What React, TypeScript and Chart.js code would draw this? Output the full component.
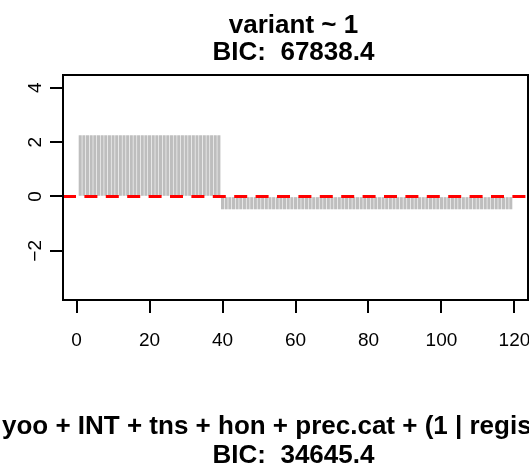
import React, { useEffect, useRef } from "react";
import { Chart, registerables } from "chart.js";

Chart.register(...registerables);

// ---- data ----
const positiveCount = 39; // x = 1..39
const negativeCount = 80; // x = 40..119
const positiveValue = 2.24;
const negativeValue = -0.46;
const xValues: number[] = Array.from({ length: positiveCount + negativeCount }, (_, i) => i + 1);
const yValues: number[] = xValues.map((x) => (x <= positiveCount ? positiveValue : negativeValue));
const xTicks = [0, 20, 40, 60, 80, 100, 120];
const yTicks = [-2, 0, 2, 4];
const xRange = [-3.72, 123.72];
const yRange = [-3.81, 4.47];
const refLineY = 0;
const titleLines = ["variant ~ 1", "BIC:  67838.4"];
const nextTitleLines = ["yoo + INT + tns + hon + prec.cat + (1 | regis", "BIC:  34645.4"];

const FONT = "'Liberation Sans', Arial, Helvetica, sans-serif";

export default function App() {
  const ref = useRef<HTMLCanvasElement | null>(null);

  useEffect(() => {
    document.body.style.margin = "0";
    const canvas = ref.current!;
    const decor = {
      id: "decor",
      afterDraw(chart: any) {
        const { ctx, chartArea } = chart;
        const ys = chart.scales.y;
        ctx.save();
        // box
        ctx.strokeStyle = "#000";
        ctx.lineWidth = 2;
        ctx.strokeRect(chartArea.left, chartArea.top, chartArea.right - chartArea.left, chartArea.bottom - chartArea.top);
        // y labels rotated
        ctx.fillStyle = "#000";
        ctx.font = `19px ${FONT}`;
        ctx.textAlign = "center";
        ctx.textBaseline = "alphabetic";
        for (const v of yTicks) {
          const py = ys.getPixelForValue(v);
          ctx.save();
          ctx.translate(41, py);
          ctx.rotate(-Math.PI / 2);
          ctx.fillText(v < 0 ? "\u2212" + Math.abs(v) : String(v), 0, 0);
          ctx.restore();
        }
        // titles
        const cx = (chartArea.left + chartArea.right) / 2 - 2;
        ctx.font = `bold 26px ${FONT}`;
        ctx.fillText(titleLines[0], cx, 32.5);
        ctx.fillText(titleLines[1], cx, 60);
        ctx.textAlign = "left";
        ctx.fillText(nextTitleLines[0], 2, 434);
        ctx.textAlign = "center";
        ctx.fillText(nextTitleLines[1], cx, 463);
        ctx.restore();
      },
    };

    const chart = new Chart(canvas, {
      type: "bar",
      data: {
        datasets: [
          {
            type: "line",
            data: [
              { x: xRange[0], y: refLineY },
              { x: xRange[1], y: refLineY },
            ],
            borderColor: "#FF0000",
            borderWidth: 3,
            borderDash: [13, 8.4],
            pointRadius: 0,
            fill: false,
            order: 0,
          } as any,
          {
            type: "bar",
            data: xValues.map((x, i) => ({ x, y: yValues[i] })),
            backgroundColor: "#BEBEBE",
            borderWidth: 0,
            barThickness: 2.4,
            order: 1,
          } as any,
        ],
      },
      options: {
        animation: false,
        responsive: false,
        maintainAspectRatio: false,
        layout: { padding: { top: 75, right: 1, left: 0, bottom: 0 } },
        plugins: { legend: { display: false }, tooltip: { enabled: false }, title: { display: false } },
        scales: {
          x: {
            type: "linear",
            offset: false,
            min: xRange[0],
            max: xRange[1],
            afterBuildTicks: (s: any) => {
              s.ticks = xTicks.map((v) => ({ value: v }));
            },
            afterFit: (s: any) => {
              s.height = 468 - 300;
              s.paddingLeft = 0;
              s.paddingRight = 0;
            },
            grid: { offset: false, drawOnChartArea: false, drawTicks: true, tickLength: 13, color: "#000", lineWidth: 2 },
            border: { display: false },
            ticks: { color: "#000", font: { family: FONT, size: 19 }, padding: 16, maxRotation: 0, autoSkip: false },
          },
          y: {
            type: "linear",
            min: yRange[0],
            max: yRange[1],
            afterBuildTicks: (s: any) => {
              s.ticks = yTicks.map((v) => ({ value: v }));
            },
            afterFit: (s: any) => {
              s.width = 63;
              s.paddingTop = 0;
              s.paddingBottom = 0;
            },
            grid: { drawOnChartArea: false, drawTicks: true, tickLength: 13, color: "#000", lineWidth: 2 },
            border: { display: false },
            ticks: { display: false },
          },
        },
      } as any,
      plugins: [decor],
    });
    return () => chart.destroy();
  }, []);

  return (
    <div style={{ position: "fixed", left: 0, top: 0, width: 529, height: 468, background: "#fff" }}>
      <canvas ref={ref} width={529} height={468} style={{ width: 529, height: 468, display: "block" }} />
    </div>
  );
}
